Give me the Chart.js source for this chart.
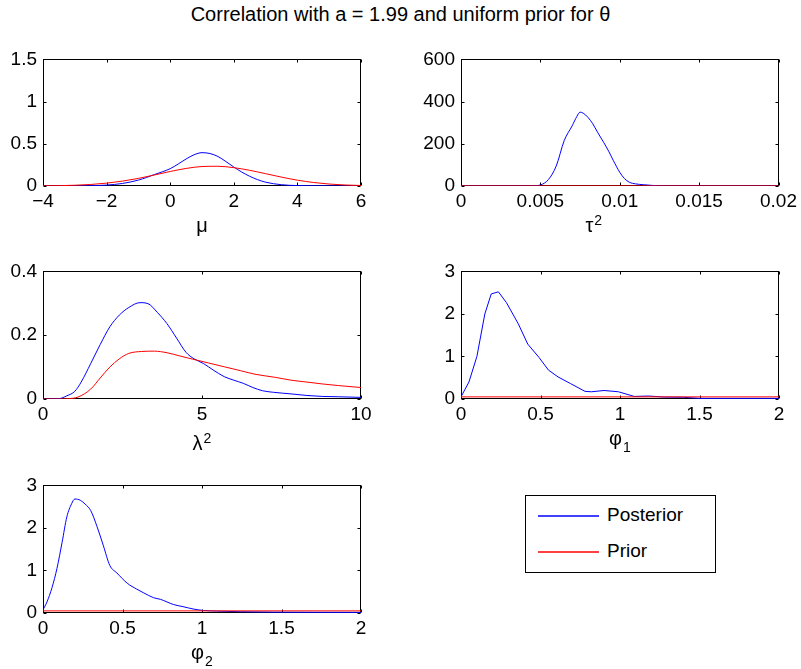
<!DOCTYPE html>
<html>
<head>
<meta charset="utf-8">
<script src="https://cdn.jsdelivr.net/npm/chart.js@4.4.1/dist/chart.umd.min.js"></script>
<style>
  body { margin:0; background:#fff; width:801px; height:669px; position:relative; overflow:hidden;
         font-family:"Liberation Sans", Arial, Helvetica, sans-serif; color:#000; }
  canvas { position:absolute; }
  #title { position:absolute; left:0; top:4px; width:801px; text-align:center; font-size:20px; line-height:20px; white-space:nowrap; }
  #legend { position:absolute; left:525px; top:495px; width:189px; height:76px; border:1px solid #000; background:#fff; }
  #legend svg { position:absolute; left:0; top:0; }
  .lg-text { position:absolute; font-size:19px; line-height:22px; white-space:nowrap; }
</style>
</head>
<body>
<div id="title">Correlation with a = 1.99 and uniform prior for θ</div>

<canvas id="plot-mu" width="383" height="200" style="left:0px;top:42px"></canvas>
<canvas id="plot-tau" width="383" height="200" style="left:418px;top:42px"></canvas>
<canvas id="plot-lam" width="383" height="201" style="left:0px;top:254px"></canvas>
<canvas id="plot-phi1" width="383" height="201" style="left:418px;top:254px"></canvas>
<canvas id="plot-phi2" width="383" height="201" style="left:0px;top:468px"></canvas>

<div id="legend">
  <svg width="189" height="76">
    <line x1="12" y1="20" x2="73" y2="20" stroke="#0000ff" stroke-width="1.4"/>
    <line x1="12" y1="56" x2="73" y2="56" stroke="#ff0000" stroke-width="1.4"/>
  </svg>
  <div class="lg-text" style="left:81px;top:8px">Posterior</div>
  <div class="lg-text" style="left:81px;top:44px">Prior</div>
</div>

<script>
'use strict';

// ---- mu ----
const muTicksX = [-4, -2, 0, 2, 4, 6];
const muTicksY = [0, 0.5, 1, 1.5];
const muPostX = [-4, -3, -2.5, -2, -1.5, -1, -0.75, -0.5, -0.25, 0, 0.25, 0.5, 0.75, 1, 1.25, 1.5, 1.75, 2, 2.25, 2.5, 2.75, 3, 3.5, 4, 5, 6];
const muPost  = [0, 0.001, 0.004, 0.011, 0.03, 0.07, 0.1, 0.135, 0.168, 0.205, 0.26, 0.32, 0.37, 0.395, 0.385, 0.35, 0.29, 0.225, 0.165, 0.115, 0.075, 0.045, 0.015, 0.005, 0.001, 0];
const muPriorX = [-4, -3.5, -3, -2.5, -2, -1.5, -1, -0.5, 0, 0.5, 1, 1.5, 2, 2.5, 3, 3.5, 4, 4.5, 5, 5.5, 6];
const muPrior  = [0.002, 0.004, 0.009, 0.018, 0.034, 0.058, 0.09, 0.13, 0.172, 0.208, 0.231, 0.234, 0.217, 0.186, 0.146, 0.105, 0.069, 0.042, 0.023, 0.012, 0.006];

// ---- tau^2 ----
const tauTicksX = [0, 0.005, 0.01, 0.015, 0.02];
const tauTicksY = [0, 200, 400, 600];
const tauPostX = [0, 0.004, 0.0045, 0.005, 0.0055, 0.006, 0.0065, 0.007, 0.0073, 0.0075, 0.0077, 0.008, 0.0083, 0.0086, 0.009, 0.0093, 0.0096, 0.01, 0.0103, 0.0106, 0.011, 0.0115, 0.012, 0.013, 0.02];
const tauPost  = [0, 0, 1, 5, 30, 95, 215, 285, 330, 350, 345, 325, 295, 255, 205, 165, 120, 65, 35, 18, 10, 6, 3, 0.5, 0];
const tauPriorX = [0, 0.005, 0.01, 0.015, 0.02];
const tauPrior  = [0.5, 0.5, 0.5, 0.5, 0.5];

// ---- lambda^2 ----
const lamTicksX = [0, 5, 10];
const lamTicksY = [0, 0.2, 0.4];
const lamPostX = [0, 0.5, 0.75, 1, 1.2, 1.5, 1.8, 2.1, 2.4, 2.7, 3.05, 3.3, 3.6, 3.9, 4.2, 4.5, 4.75, 5.05, 5.35, 5.7, 6, 6.3, 6.6, 6.9, 7.25, 7.8, 8.3, 8.8, 9.3, 10];
const lamPost  = [0, 0.001, 0.01, 0.024, 0.053, 0.111, 0.171, 0.226, 0.263, 0.287, 0.302, 0.299, 0.271, 0.236, 0.191, 0.146, 0.126, 0.111, 0.091, 0.07, 0.059, 0.049, 0.036, 0.026, 0.021, 0.016, 0.011, 0.008, 0.007, 0.005];
const lamPriorX = [0, 0.5, 0.8, 1.1, 1.5, 1.8, 2.1, 2.4, 2.7, 3.1, 3.5, 3.9, 4.3, 4.7, 5.2, 5.7, 6.2, 6.7, 7.3, 7.8, 8.3, 8.8, 9.3, 10];
const lamPrior  = [0, 0, 0.001, 0.006, 0.031, 0.066, 0.1, 0.126, 0.143, 0.149, 0.15, 0.145, 0.135, 0.125, 0.113, 0.101, 0.089, 0.077, 0.068, 0.059, 0.053, 0.047, 0.042, 0.036];

// ---- phi_1 ----
const phiTicksX = [0, 0.5, 1, 1.5, 2];
const phiTicksY = [0, 1, 2, 3];
const phi1PostX = [0, 0.05, 0.1, 0.15, 0.19, 0.235, 0.285, 0.36, 0.42, 0.49, 0.55, 0.61, 0.69, 0.78, 0.82, 0.9, 0.99, 1.09, 1.18, 1.28, 1.4, 1.5, 1.65, 2];
const phi1Post  = [0.05, 0.4, 1.0, 2.0, 2.47, 2.52, 2.27, 1.77, 1.29, 0.98, 0.68, 0.52, 0.36, 0.18, 0.17, 0.2, 0.17, 0.06, 0.07, 0.045, 0.04, 0.015, 0.015, 0.015];
const phi1PriorX = [0, 2];
const phi1Prior  = [0.05, 0.05];

// ---- phi_2 ----
const phi2PostX = [0, 0.025, 0.057, 0.088, 0.12, 0.15, 0.18, 0.2, 0.235, 0.265, 0.3, 0.34, 0.38, 0.42, 0.465, 0.53, 0.59, 0.63, 0.695, 0.74, 0.78, 0.82, 0.88, 0.95, 1.01, 1.09, 1.24, 1.45, 2];
const phi2Post  = [0.075, 0.26, 0.6, 1.05, 1.66, 2.26, 2.57, 2.68, 2.65, 2.56, 2.41, 2.03, 1.58, 1.12, 0.94, 0.7, 0.56, 0.48, 0.36, 0.32, 0.26, 0.2, 0.15, 0.09, 0.06, 0.045, 0.03, 0.02, 0.015];
const phi2PriorX = [0, 2];
const phi2Prior  = [0.05, 0.05];

const BLUE = '#0000ff';
const RED = '#ff0000';
const FONT = '"Liberation Sans", Arial, Helvetica, sans-serif';

function pts(xs, ys){
  return xs.map((x, i) => ({x: x, y: ys[i]}));
}

function fmt(v){
  return String(+Number(v).toFixed(6)).replace('-', '\u2212');
}

// matlab-ish box with inward ticks on all sides, plus the x label with a sub/superscript
const boxPlugin = {
  id: 'matlabBox',
  beforeDatasetsDraw(chart){
    const {ctx, chartArea: a, scales: {x, y}} = chart;
    const L = Math.round(a.left) + 0.5, R = Math.round(a.right) - 0.5;
    const T = Math.round(a.top) + 0.5, B = Math.round(a.bottom) - 0.5;
    const tl = 3;
    ctx.save();
    ctx.strokeStyle = '#000';
    ctx.lineWidth = 1;
    ctx.strokeRect(L, T, R - L, B - T);
    ctx.beginPath();
    x.ticks.forEach((t) => {
      const px = Math.round(x.getPixelForValue(t.value)) + 0.5;
      ctx.moveTo(px, B); ctx.lineTo(px, B - tl);
      ctx.moveTo(px, T); ctx.lineTo(px, T + tl);
    });
    y.ticks.forEach((t) => {
      const py = Math.round(y.getPixelForValue(t.value)) + 0.5;
      ctx.moveTo(L, py); ctx.lineTo(L + tl, py);
      ctx.moveTo(R, py); ctx.lineTo(R - tl, py);
    });
    ctx.stroke();
    ctx.restore();
  },
  afterDraw(chart, args, o){
    const {ctx, chartArea: a} = chart;
    const script = o.sup || o.sub || '';
    ctx.save();
    ctx.fillStyle = '#000';
    ctx.textAlign = 'left';
    ctx.textBaseline = 'alphabetic';
    ctx.font = '20px ' + FONT;
    const wb = ctx.measureText(o.label).width;
    ctx.font = '14px ' + FONT;
    const ws = script ? ctx.measureText(script).width + 1 : 0;
    const x0 = (a.left + a.right) / 2 - (wb + ws) / 2 + (o.dx || 0);
    const yb = a.bottom + (o.dy || 45);
    ctx.font = '20px ' + FONT;
    ctx.fillText(o.label, x0, yb);
    if (script){
      ctx.font = '14px ' + FONT;
      ctx.fillText(script, x0 + wb + 1, yb + (o.sup ? -7 : 7));
    }
    ctx.restore();
  }
};

function axis(ticks, isX){
  return {
    type: 'linear',
    min: ticks[0],
    max: ticks[ticks.length - 1],
    grid: {display: false, drawTicks: false},
    border: {display: false},
    ticks: {
      color: '#000',
      font: {family: FONT, size: 19},
      padding: isX ? 4 : 6,
      autoSkip: false,
      maxRotation: 0,
      callback: (v) => fmt(v)
    },
    afterBuildTicks: (s) => { s.ticks = ticks.map((v) => ({value: v})); },
    afterFit: (s) => { if (isX) s.height = 56; else s.width = 43; }
  };
}

function makePlot(id, c){
  return new Chart(document.getElementById(id), {
    type: 'line',
    data: {
      datasets: [
        {label: 'Posterior', data: pts(c.postX, c.post), borderColor: BLUE, borderWidth: 1,
         pointRadius: 0, fill: false, order: 1,
         cubicInterpolationMode: c.smooth ? 'monotone' : 'default', tension: 0},
        {label: 'Prior', data: pts(c.priorX, c.prior), borderColor: RED, borderWidth: 1,
         pointRadius: 0, fill: false, order: 0,
         cubicInterpolationMode: 'monotone', tension: 0}
      ]
    },
    options: {
      responsive: false,
      animation: false,
      events: [],
      layout: {padding: {top: 12, right: 22, bottom: 0, left: 0}},
      plugins: {
        legend: {display: false},
        tooltip: {enabled: false},
        matlabBox: {label: c.label, sup: c.sup, sub: c.sub, dx: c.dx, dy: c.dy}
      },
      scales: {
        x: axis(c.xt, true),
        y: axis(c.yt, false)
      }
    },
    plugins: [boxPlugin]
  });
}

window.addEventListener('load', () => {
  makePlot('plot-mu', {postX: muPostX, post: muPost, priorX: muPriorX, prior: muPrior,
    xt: muTicksX, yt: muTicksY, smooth: true, label: 'μ', dy: 46});
  makePlot('plot-tau', {postX: tauPostX, post: tauPost, priorX: tauPriorX, prior: tauPrior,
    xt: tauTicksX, yt: tauTicksY, smooth: true, label: 'τ', sup: '2', dx: -26, dy: 46});
  makePlot('plot-lam', {postX: lamPostX, post: lamPost, priorX: lamPriorX, prior: lamPrior,
    xt: lamTicksX, yt: lamTicksY, smooth: true, label: 'λ', sup: '2', dy: 51});
  makePlot('plot-phi1', {postX: phi1PostX, post: phi1Post, priorX: phi1PriorX, prior: phi1Prior,
    xt: phiTicksX, yt: phiTicksY, smooth: false, label: 'φ', sub: '1', dy: 46});
  makePlot('plot-phi2', {postX: phi2PostX, post: phi2Post, priorX: phi2PriorX, prior: phi2Prior,
    xt: phiTicksX, yt: phiTicksY, smooth: true, label: 'φ', sub: '2', dy: 46});
});
</script>
</body>
</html>
